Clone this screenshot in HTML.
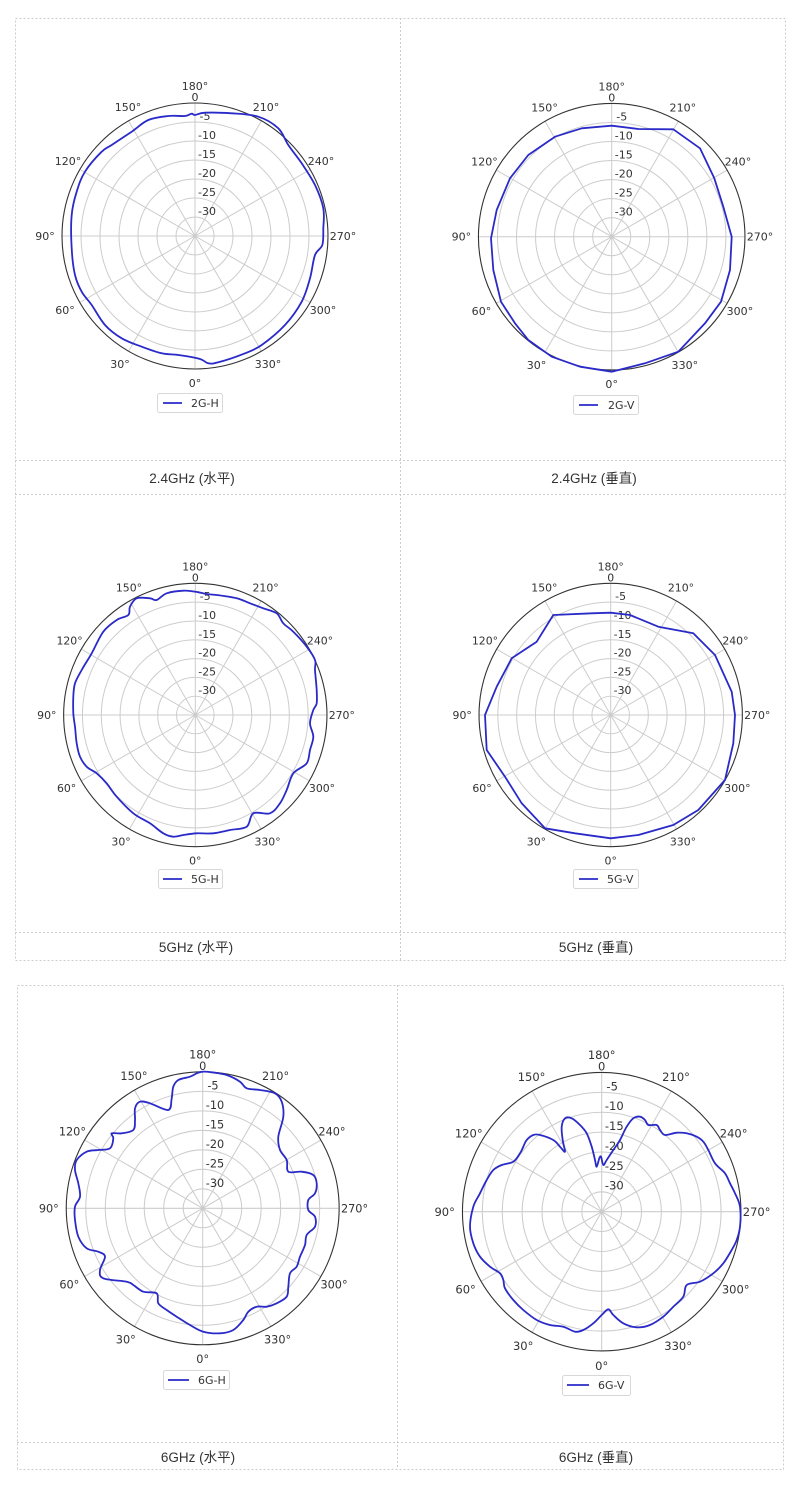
<!DOCTYPE html>
<html><head><meta charset="utf-8"><style>
html,body{margin:0;padding:0;background:#fff;}
svg{display:block;font-family:"DejaVu Sans","Liberation Sans","Noto Sans CJK SC",sans-serif;}
.t{font-size:11px;fill:#333;}
.lab{font-size:13.5px;fill:#333;font-family:"Liberation Sans","Noto Sans CJK SC",sans-serif;}
.g{stroke:#ccc;fill:none;stroke-width:1;vector-effect:non-scaling-stroke;}
.o{stroke:#333;fill:none;stroke-width:1.1;vector-effect:non-scaling-stroke;}
.c{stroke:#2a2ac8;fill:none;stroke-width:1.8;stroke-linejoin:round;}
.b{stroke:#ccc;stroke-dasharray:2 2;fill:none;stroke-width:1;}
</style></head><body>
<svg width="800" height="1486" viewBox="0 0 800 1486" xmlns="http://www.w3.org/2000/svg">
<!-- tables -->
<rect class="b" x="15.5" y="18.5" width="770" height="942"/>
<line class="b" x1="400.5" y1="18" x2="400.5" y2="960"/>
<line class="b" x1="15" y1="460.5" x2="785" y2="460.5"/>
<line class="b" x1="15" y1="494.5" x2="785" y2="494.5"/>
<line class="b" x1="15" y1="932.5" x2="785" y2="932.5"/>
<rect class="b" x="17.5" y="985.5" width="766" height="484"/>
<line class="b" x1="397.5" y1="985" x2="397.5" y2="1469"/>
<line class="b" x1="17" y1="1442.5" x2="783" y2="1442.5"/>
<text class="lab" x="192" y="483" text-anchor="middle">2.4GHz (水平)</text>
<text class="lab" x="594" y="483" text-anchor="middle">2.4GHz (垂直)</text>
<text class="lab" x="196" y="952" text-anchor="middle">5GHz (水平)</text>
<text class="lab" x="596" y="952" text-anchor="middle">5GHz (垂直)</text>
<text class="lab" x="198" y="1462" text-anchor="middle">6GHz (水平)</text>
<text class="lab" x="596" y="1462" text-anchor="middle">6GHz (垂直)</text>

<!-- P1 -->
<g transform="translate(195,236) scale(1)">
<g class="g"><circle r="19"/><circle r="38"/><circle r="57"/><circle r="76"/><circle r="95"/><circle r="114"/>
<path d="M0,0L0,133M0,0L-66.5,115.2M0,0L-115.2,66.5M0,0L-133,0M0,0L-115.2,-66.5M0,0L-66.5,-115.2M0,0L0,-133M0,0L66.5,-115.2M0,0L115.2,-66.5M0,0L133,0M0,0L115.2,66.5M0,0L66.5,115.2"/></g>
<circle class="o" r="133"/>
<g class="t" text-anchor="middle"><text x="0" y="-146">180°</text><text x="0" y="-135">0</text><text x="-67" y="-125">150°</text><text x="71" y="-125">210°</text><text x="-127" y="-71">120°</text><text x="126" y="-71">240°</text><text x="-150" y="4">90°</text><text x="148" y="4">270°</text><text x="-130" y="78">60°</text><text x="128" y="78">300°</text><text x="-75" y="132">30°</text><text x="73" y="132">330°</text><text x="0" y="151">0°</text>
<text x="10" y="-116">-5</text><text x="12" y="-97">-10</text><text x="12" y="-78">-15</text><text x="12" y="-59">-20</text><text x="12" y="-40">-25</text><text x="12" y="-21">-30</text></g>
</g>
<!-- P2 -->
<g transform="translate(611.7,236.7) scale(1.002)">
<g class="g"><circle r="19"/><circle r="38"/><circle r="57"/><circle r="76"/><circle r="95"/><circle r="114"/>
<path d="M0,0L0,133M0,0L-66.5,115.2M0,0L-115.2,66.5M0,0L-133,0M0,0L-115.2,-66.5M0,0L-66.5,-115.2M0,0L0,-133M0,0L66.5,-115.2M0,0L115.2,-66.5M0,0L133,0M0,0L115.2,66.5M0,0L66.5,115.2"/></g>
<circle class="o" r="133"/>
<g class="t" text-anchor="middle"><text x="0" y="-146">180°</text><text x="0" y="-135">0</text><text x="-67" y="-125">150°</text><text x="71" y="-125">210°</text><text x="-127" y="-71">120°</text><text x="126" y="-71">240°</text><text x="-150" y="4">90°</text><text x="148" y="4">270°</text><text x="-130" y="78">60°</text><text x="128" y="78">300°</text><text x="-75" y="132">30°</text><text x="73" y="132">330°</text><text x="0" y="151">0°</text>
<text x="10" y="-116">-5</text><text x="12" y="-97">-10</text><text x="12" y="-78">-15</text><text x="12" y="-59">-20</text><text x="12" y="-40">-25</text><text x="12" y="-21">-30</text></g>
</g>
<!-- P3 -->
<g transform="translate(195.3,715) scale(0.99)">
<g class="g"><circle r="19"/><circle r="38"/><circle r="57"/><circle r="76"/><circle r="95"/><circle r="114"/>
<path d="M0,0L0,133M0,0L-66.5,115.2M0,0L-115.2,66.5M0,0L-133,0M0,0L-115.2,-66.5M0,0L-66.5,-115.2M0,0L0,-133M0,0L66.5,-115.2M0,0L115.2,-66.5M0,0L133,0M0,0L115.2,66.5M0,0L66.5,115.2"/></g>
<circle class="o" r="133"/>
<g class="t" text-anchor="middle"><text x="0" y="-146">180°</text><text x="0" y="-135">0</text><text x="-67" y="-125">150°</text><text x="71" y="-125">210°</text><text x="-127" y="-71">120°</text><text x="126" y="-71">240°</text><text x="-150" y="4">90°</text><text x="148" y="4">270°</text><text x="-130" y="78">60°</text><text x="128" y="78">300°</text><text x="-75" y="132">30°</text><text x="73" y="132">330°</text><text x="0" y="151">0°</text>
<text x="10" y="-116">-5</text><text x="12" y="-97">-10</text><text x="12" y="-78">-15</text><text x="12" y="-59">-20</text><text x="12" y="-40">-25</text><text x="12" y="-21">-30</text></g>
</g>
<!-- P4 -->
<g transform="translate(610.7,715) scale(0.99)">
<g class="g"><circle r="19"/><circle r="38"/><circle r="57"/><circle r="76"/><circle r="95"/><circle r="114"/>
<path d="M0,0L0,133M0,0L-66.5,115.2M0,0L-115.2,66.5M0,0L-133,0M0,0L-115.2,-66.5M0,0L-66.5,-115.2M0,0L0,-133M0,0L66.5,-115.2M0,0L115.2,-66.5M0,0L133,0M0,0L115.2,66.5M0,0L66.5,115.2"/></g>
<circle class="o" r="133"/>
<g class="t" text-anchor="middle"><text x="0" y="-146">180°</text><text x="0" y="-135">0</text><text x="-67" y="-125">150°</text><text x="71" y="-125">210°</text><text x="-127" y="-71">120°</text><text x="126" y="-71">240°</text><text x="-150" y="4">90°</text><text x="148" y="4">270°</text><text x="-130" y="78">60°</text><text x="128" y="78">300°</text><text x="-75" y="132">30°</text><text x="73" y="132">330°</text><text x="0" y="151">0°</text>
<text x="10" y="-116">-5</text><text x="12" y="-97">-10</text><text x="12" y="-78">-15</text><text x="12" y="-59">-20</text><text x="12" y="-40">-25</text><text x="12" y="-21">-30</text></g>
</g>
<!-- P5 -->
<g transform="translate(202.7,1208.3) scale(1.026)">
<g class="g"><circle r="19"/><circle r="38"/><circle r="57"/><circle r="76"/><circle r="95"/><circle r="114"/>
<path d="M0,0L0,133M0,0L-66.5,115.2M0,0L-115.2,66.5M0,0L-133,0M0,0L-115.2,-66.5M0,0L-66.5,-115.2M0,0L0,-133M0,0L66.5,-115.2M0,0L115.2,-66.5M0,0L133,0M0,0L115.2,66.5M0,0L66.5,115.2"/></g>
<circle class="o" r="133"/>
<g class="t" text-anchor="middle"><text x="0" y="-146">180°</text><text x="0" y="-135">0</text><text x="-67" y="-125">150°</text><text x="71" y="-125">210°</text><text x="-127" y="-71">120°</text><text x="126" y="-71">240°</text><text x="-150" y="4">90°</text><text x="148" y="4">270°</text><text x="-130" y="78">60°</text><text x="128" y="78">300°</text><text x="-75" y="132">30°</text><text x="73" y="132">330°</text><text x="0" y="151">0°</text>
<text x="10" y="-116">-5</text><text x="12" y="-97">-10</text><text x="12" y="-78">-15</text><text x="12" y="-59">-20</text><text x="12" y="-40">-25</text><text x="12" y="-21">-30</text></g>
</g>
<!-- P6 -->
<g transform="translate(601.7,1211.7) scale(1.047)">
<g class="g"><circle r="19"/><circle r="38"/><circle r="57"/><circle r="76"/><circle r="95"/><circle r="114"/>
<path d="M0,0L0,133M0,0L-66.5,115.2M0,0L-115.2,66.5M0,0L-133,0M0,0L-115.2,-66.5M0,0L-66.5,-115.2M0,0L0,-133M0,0L66.5,-115.2M0,0L115.2,-66.5M0,0L133,0M0,0L115.2,66.5M0,0L66.5,115.2"/></g>
<circle class="o" r="133"/>
<g class="t" text-anchor="middle"><text x="0" y="-146">180°</text><text x="0" y="-135">0</text><text x="-67" y="-125">150°</text><text x="71" y="-125">210°</text><text x="-127" y="-71">120°</text><text x="126" y="-71">240°</text><text x="-150" y="4">90°</text><text x="148" y="4">270°</text><text x="-130" y="78">60°</text><text x="128" y="78">300°</text><text x="-75" y="132">30°</text><text x="73" y="132">330°</text><text x="0" y="151">0°</text>
<text x="10" y="-116">-5</text><text x="12" y="-97">-10</text><text x="12" y="-78">-15</text><text x="12" y="-59">-20</text><text x="12" y="-40">-25</text><text x="12" y="-21">-30</text></g>
</g>

<!-- curves -->
<path id="c1" class="c"/><path id="c2" class="c"/><path id="c3" class="c"/>
<path id="c4" class="c"/><path id="c5" class="c"/><path id="c6" class="c"/>

<!-- legends -->
<g class="t">
<rect x="157.5" y="393.5" width="65" height="19" rx="2" fill="#fff" stroke="#d8d8d8"/><line x1="163" y1="403" x2="182" y2="403" stroke="#2a2ac8" stroke-width="1.8"/><text x="191" y="407">2G-H</text>
<rect x="573.5" y="395.5" width="65" height="19" rx="2" fill="#fff" stroke="#d8d8d8"/><line x1="579" y1="405" x2="598" y2="405" stroke="#2a2ac8" stroke-width="1.8"/><text x="608" y="409">2G-V</text>
<rect x="158.5" y="869.5" width="64" height="19" rx="2" fill="#fff" stroke="#d8d8d8"/><line x1="163" y1="879" x2="182" y2="879" stroke="#2a2ac8" stroke-width="1.8"/><text x="191" y="883">5G-H</text>
<rect x="573.5" y="869.5" width="65" height="19" rx="2" fill="#fff" stroke="#d8d8d8"/><line x1="579" y1="879" x2="598" y2="879" stroke="#2a2ac8" stroke-width="1.8"/><text x="607" y="883">5G-V</text>
<rect x="163.5" y="1370.5" width="66" height="19" rx="2" fill="#fff" stroke="#d8d8d8"/><line x1="168" y1="1380" x2="189" y2="1380" stroke="#2a2ac8" stroke-width="1.8"/><text x="198" y="1384">6G-H</text>
<rect x="562.5" y="1375.5" width="68" height="20" rx="2" fill="#fff" stroke="#d8d8d8"/><line x1="567" y1="1385" x2="589" y2="1385" stroke="#2a2ac8" stroke-width="1.8"/><text x="598" y="1389">6G-V</text>
</g>
</svg>
<script>
function conv(a,ox,oy){var r=[];for(var i=0;i<a.length;i+=2)r.push([a[i]/3+ox,a[i+1]/3+oy]);return r;}
function smooth(p){var n=p.length,d="M"+p[0][0].toFixed(1)+","+p[0][1].toFixed(1);
for(var i=0;i<n;i++){var p0=p[(i-1+n)%n],p1=p[i],p2=p[(i+1)%n],p3=p[(i+2)%n];
var c1x=p1[0]+(p2[0]-p0[0])/6,c1y=p1[1]+(p2[1]-p0[1])/6,c2x=p2[0]-(p3[0]-p1[0])/6,c2y=p2[1]-(p3[1]-p1[1])/6;
d+="C"+c1x.toFixed(1)+","+c1y.toFixed(1)+" "+c2x.toFixed(1)+","+c2y.toFixed(1)+" "+p2[0].toFixed(1)+","+p2[1].toFixed(1);}
return d+"Z";}
function poly(p){return "M"+p.map(function(q){return q[0].toFixed(1)+","+q[1].toFixed(1)}).join("L")+"Z";}
var P1=[540,300,570,293,650,295,730,305,790,340,820,390,860,445,900,510,925,580,925,640,922,690,900,720,885,790,860,860,810,930,740,990,690,1015,610,1042,580,1045,555,1032,490,1020,440,1015,380,995,320,970,270,930,230,870,200,830,180,780,170,700,170,600,185,530,210,470,260,410,290,390,350,350,400,315,460,303,510,303,530,296];
var P2=[440,107,520,117,625,118,705,175,748,265,775,350,800,440,795,540,768,635,720,700,640,785,540,820,440,845,345,830,260,800,190,750,150,700,108,635,85,540,78,445,95,360,135,265,190,195,270,140,350,115];
var P3=[436,65,400,62,350,70,320,90,300,85,260,85,240,110,235,135,200,150,160,185,125,250,95,300,75,340,70,380,70,430,75,470,80,520,90,560,110,590,140,610,170,640,200,680,250,730,300,760,340,790,370,800,400,795,440,790,490,790,540,780,590,770,610,730,660,730,690,700,710,660,730,610,770,580,780,540,790,500,780,460,790,420,800,400,800,360,795,300,795,270,770,230,730,185,700,160,680,130,640,115,600,100,560,85,500,75,470,72];
var P4=[437,128,495,135,580,170,685,190,750,255,800,365,810,435,805,520,780,630,700,720,625,765,520,795,437,805,330,790,240,775,170,700,120,620,65,540,60,435,95,350,140,265,215,215,265,135,380,130];
var P5=[488,95,515,97,560,105,600,125,620,145,660,150,705,160,725,185,730,230,715,290,720,330,740,360,745,395,785,395,820,405,830,430,825,460,805,480,805,510,825,530,825,560,800,585,795,615,780,650,770,680,750,700,745,740,740,770,710,790,680,800,650,800,625,815,610,840,580,870,540,880,490,875,450,855,410,830,380,810,355,790,350,760,310,755,280,735,260,725,190,715,180,690,195,650,175,635,140,625,115,590,105,540,105,500,120,470,115,430,105,390,110,360,140,335,175,330,210,325,220,295,215,280,245,280,280,270,285,240,285,205,300,185,330,190,385,210,395,175,400,140,415,120,450,110,470,100];
var P6=[610,375,620,360,640,330,660,300,680,260,700,235,720,230,735,240,745,255,770,255,780,270,795,285,830,278,860,280,890,290,910,305,925,330,945,370,975,400,990,430,1005,460,1020,500,1020,560,1010,600,995,630,970,670,940,700,900,725,860,735,850,770,820,800,790,830,750,855,710,862,670,850,640,825,625,808,605,825,580,850,550,870,525,875,490,860,450,855,410,840,370,810,340,780,315,745,310,720,300,700,270,680,240,650,220,610,210,560,220,500,240,460,260,420,280,390,305,375,340,365,360,340,370,320,380,300,400,285,420,285,460,300,480,320,495,335,488,300,485,260,495,235,515,235,540,255,560,280,575,320,585,360,590,380,598,355,603,350];
document.getElementById("c1").setAttribute("d",smooth(conv(P1,15,15)));
document.getElementById("c2").setAttribute("d",poly(conv(P2,465,90)));
document.getElementById("c3").setAttribute("d",smooth(conv(P3,50,570)));
document.getElementById("c4").setAttribute("d",poly(conv(P4,465,570)));
document.getElementById("c5").setAttribute("d",smooth(conv(P5,40,1040)));
document.getElementById("c6").setAttribute("d",smooth(conv(P6,400,1040)));
</script>
</body></html>
